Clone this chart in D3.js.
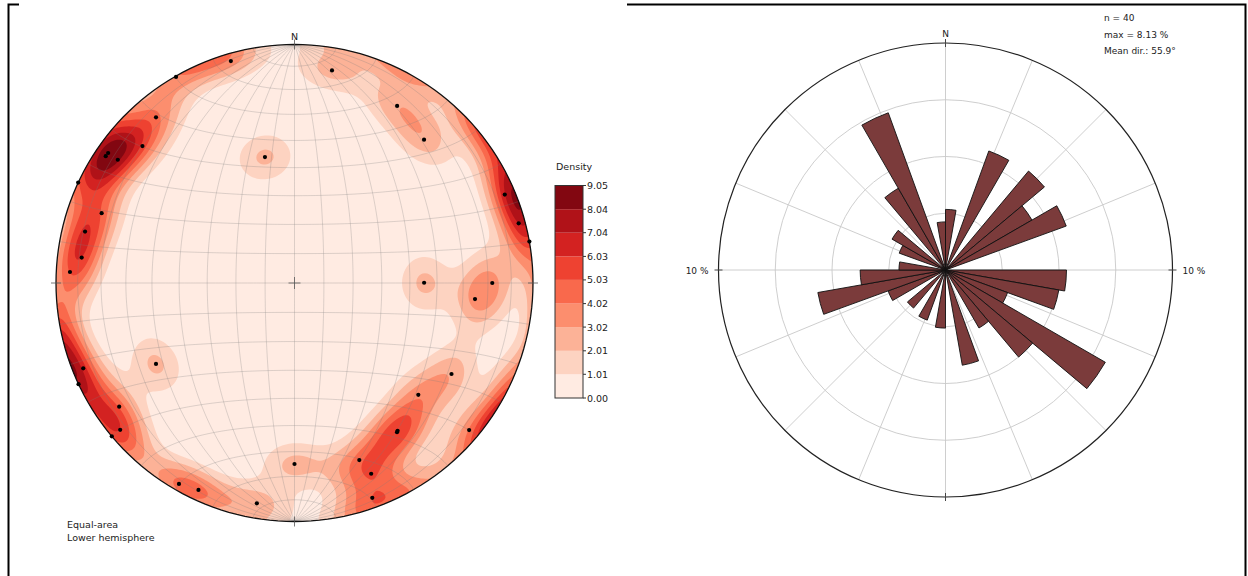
<!DOCTYPE html>
<html><head><meta charset="utf-8">
<script src="https://cdn.jsdelivr.net/npm/d3@7"></script>
<style>
body{margin:0;background:#fff}
svg{display:block}
text{font-family:"DejaVu Sans",sans-serif;fill:#222}
</style>
</head><body>
<svg id="c" width="1248" height="576"></svg>
<script>
// ---------------- data ----------------
// poles (trend / plunge, degrees) read from the stereonet
const poleTrend  = [344.0,330.1,10.0,30.1,42.1,67.2,75.1,80.0,89.9,90.0,95.1,120.1,132.1,130.1,145.1,145.5,159.9,158.1,160.1,180.0,
                    189.7,204.9,209.9,239.7,229.9,230.0,234.8,248.0,244.9,272.8,276.8,283.8,289.9,294.9,303.9,304.9,304.9,312.0,320.1,346.8];
const polePlunge = [3.6,0.4,10.4,15.3,20.1,4.9,3.1,0.0,44.8,18.2,25.0,24.9,30.7,4.8,25.4,25.1,22.0,14.9,4.7,25.1,
                    7.0,4.9,3.2,33.2,5.0,0.0,11.0,5.0,0.0,6.4,11.1,10.5,15.1,0.0,5.2,5.3,10.6,15.3,10.4,44.9];
const densityTicks = [0.00,1.01,2.01,3.02,4.02,5.03,6.03,7.04,8.04,9.05];
const densityLabels = ["0.00","1.01","2.01","3.02","4.02","5.03","6.03","7.04","8.04","9.05"];
const netLabels = ["Equal-area","Lower hemisphere"];

// rose diagram: 10-degree bins, percent of data
const roseBinStart = [0,10,20,30,40,50,60,70,80,90,100,110,120,130,140,150,160,170,
                      180,190,200,210,220,230,240,250,260,270,280,290,300,310,320,330,340,350];
const rosePercent  = [2.67,0,5.58,0,5.69,4.40,5.66,0,0,5.33,5.07,2.91,8.13,5.01,2.95,0,4.26,0,
                      2.56,0,2.35,0,2.19,0,2.69,5.71,3.76,2.05,0,2.17,2.72,0,4.16,7.37,0,2.12];
const roseRings = [2.5,5,7.5,10];
const roseInfo = ["n = 40","max = 8.13 %","Mean dir.: 55.9°"];
const roseAxisLabel = "10 %";

// ---------------- setup ----------------
const svg = d3.select("#c");
const rad = Math.PI/180;

// frame lines
svg.append("path").attr("d","M8.5,576V4.5H19").attr("fill","none").attr("stroke","#000").attr("stroke-width",2);
svg.append("path").attr("d","M627,4.5H1245.5V576").attr("fill","none").attr("stroke","#000").attr("stroke-width",2);

// ---------------- stereonet ----------------
const cx = 294.5, cy = 283, R = 238.5;
const proj = d3.geoAzimuthalEqualArea().scale(R/Math.SQRT2).translate([cx,cy]).clipAngle(90).precision(0.1);
const gpath = d3.geoPath(proj);

function poleLonLat(t,p){
  const e = Math.cos(p*rad)*Math.sin(t*rad), n = Math.cos(p*rad)*Math.cos(t*rad), d = Math.sin(p*rad);
  return [Math.atan2(e,d)/rad, Math.asin(n)/rad];
}
function vec(lon,lat){
  return [Math.cos(lat*rad)*Math.cos(lon*rad), Math.cos(lat*rad)*Math.sin(lon*rad), Math.sin(lat*rad)];
}
const poles = poleTrend.map((t,i)=>poleLonLat(t,polePlunge[i]));
const pv = poles.map(ll=>vec(ll[0],ll[1]));

// density grid (axial exponential kernel on the sphere)
const kappa = 65, offset = 0.13;
const step = 2, gx0 = cx - R - 8, gy0 = cy - R - 8;
const nx = Math.ceil((2*R+16)/step), ny = nx;
const vals = new Float64Array(nx*ny);
let vmax = 0;
for(let j=0;j<ny;j++){
  for(let i=0;i<nx;i++){
    const x = gx0 + (i+0.5)*step, y = gy0 + (j+0.5)*step;
    const ll = proj.invert([x,y]);
    const v = vec(ll[0],ll[1]);
    let s = 0;
    for(const q of pv){
      const c = Math.abs(v[0]*q[0]+v[1]*q[1]+v[2]*q[2]);
      s += Math.exp(kappa*(c-1));
    }
    s = Math.max(0, s - offset);
    vals[j*nx+i] = s;
    const r = Math.hypot(x-cx,y-cy);
    if(r<=R && s>vmax) vmax = s;
  }
}
const dMax = densityTicks[densityTicks.length-1];
for(let k=0;k<vals.length;k++) vals[k] = vals[k]/vmax*dMax;

const bandColor = i => d3.interpolateReds((i+0.5)/9);

svg.append("clipPath").attr("id","netclip").append("circle").attr("cx",cx).attr("cy",cy).attr("r",R);
const net = svg.append("g");
const cg = net.append("g").attr("clip-path","url(#netclip)");
const toScreen = d3.geoTransform({point:function(x,y){ this.stream.point(gx0 + x*step, gy0 + y*step); }});
const cpath = d3.geoPath(toScreen);
const thr = densityTicks.slice(0,9);
const contours = d3.contours().size([nx,ny]).thresholds(thr)(Array.from(vals));
cg.append("circle").attr("cx",cx).attr("cy",cy).attr("r",R).attr("fill",bandColor(0));
cg.selectAll("path.band").data(contours).join("path").attr("class","band")
  .attr("d",cpath).attr("fill",(d,i)=>bandColor(i)).attr("stroke","none");

// graticule
const gridLines = [];
for(let lon=-80; lon<=80; lon+=10){ gridLines.push({type:"LineString",coordinates:d3.range(-90,90.5,1).map(lat=>[lon,lat])}); }
for(let lat=-80; lat<=80; lat+=10){ gridLines.push({type:"LineString",coordinates:d3.range(-90,90.5,1).map(lon=>[lon,lat])}); }
net.append("g").selectAll("path").data(gridLines).join("path").attr("d",gpath)
  .attr("fill","none").attr("stroke","#7a7a7a").attr("stroke-opacity",0.45).attr("stroke-width",0.6);

// primitive
net.append("path").datum({type:"Sphere"}).attr("d",gpath).attr("fill","none").attr("stroke","#111").attr("stroke-width",1.3);

// ticks and centre cross
const tk = 5;
const tickPts = [[0,90],[0,-90],[90,0],[-90,0]].map(p=>proj(p));
tickPts.forEach((p,i)=>{
  const vert = i<2;
  net.append("line").attr("x1",vert?p[0]:p[0]-tk).attr("x2",vert?p[0]:p[0]+tk)
     .attr("y1",vert?p[1]-tk:p[1]).attr("y2",vert?p[1]+tk:p[1]).attr("stroke","#555").attr("stroke-width",0.8);
});
const c0 = proj([0,0]);
net.append("path").attr("d",`M${c0[0]-6},${c0[1]}H${c0[0]+6}M${c0[0]},${c0[1]-6}V${c0[1]+6}`).attr("stroke","#555").attr("stroke-width",0.8);
net.append("text").attr("x",tickPts[0][0]).attr("y",tickPts[0][1]-5).attr("text-anchor","middle").attr("font-size",9.5).text("N");

// poles
net.append("g").selectAll("circle").data(poles).join("circle")
  .attr("cx",d=>proj(d)[0]).attr("cy",d=>proj(d)[1]).attr("r",2.1).attr("fill","#000");

// labels
netLabels.forEach((t,i)=>svg.append("text").attr("x",67).attr("y",528+i*13).attr("font-size",9.5).text(t));

// colorbar
const cbY = d3.scaleLinear().domain([0,dMax]).range([398,185.5]);
const cbX = 555, cbW = 28;
const cb = svg.append("g");
cb.selectAll("rect").data(d3.range(9)).join("rect")
  .attr("x",cbX).attr("width",cbW)
  .attr("y",i=>cbY(densityTicks[i+1])).attr("height",i=>cbY(densityTicks[i])-cbY(densityTicks[i+1]))
  .attr("fill",i=>bandColor(i));
cb.append("rect").attr("x",cbX).attr("y",cbY(dMax)).attr("width",cbW).attr("height",cbY(0)-cbY(dMax))
  .attr("fill","none").attr("stroke","#333").attr("stroke-width",1);
cb.selectAll("line.t").data(densityTicks).join("line").attr("class","t")
  .attr("x1",cbX+cbW).attr("x2",cbX+cbW+3).attr("y1",d=>cbY(d)).attr("y2",d=>cbY(d)).attr("stroke","#333");
cb.selectAll("text.l").data(densityTicks).join("text").attr("class","l")
  .attr("x",cbX+cbW+4).attr("y",d=>cbY(d)+3.5).attr("font-size",9.5).text((d,i)=>densityLabels[i]);
cb.append("text").attr("x",cbX+1).attr("y",170).attr("font-size",9.5).text("Density");

// ---------------- rose diagram ----------------
const rx = 945.5, ry = 270, RR = 227;
const rScale = d3.scaleLinear().domain([0,10]).range([0,RR]);
const rose = svg.append("g").attr("transform",`translate(${rx},${ry})`);
rose.selectAll("circle.ring").data(roseRings.slice(0,3)).join("circle").attr("class","ring")
  .attr("r",d=>rScale(d)).attr("fill","none").attr("stroke","#c8c8c8").attr("stroke-width",0.9);
rose.selectAll("line.spoke").data(d3.range(0,360,22.5)).join("line").attr("class","spoke")
  .attr("x1",0).attr("y1",0).attr("x2",d=>RR*Math.sin(d*rad)).attr("y2",d=>-RR*Math.cos(d*rad))
  .attr("stroke","#c8c8c8").attr("stroke-width",0.9);
const arc = d3.arc().innerRadius(0);
rose.selectAll("path.bar").data(roseBinStart.map((b,i)=>({b,v:rosePercent[i]})).filter(d=>d.v>0)).join("path").attr("class","bar")
  .attr("d",d=>arc({outerRadius:rScale(d.v),startAngle:d.b*rad,endAngle:(d.b+10)*rad}))
  .attr("fill","#7b3b3b").attr("stroke","#111").attr("stroke-width",0.9).attr("stroke-linejoin","miter");
rose.append("circle").attr("r",RR).attr("fill","none").attr("stroke","#222").attr("stroke-width",1.2);
[[0,-1],[0,1],[1,0],[-1,0]].forEach(([a,b])=>{
  const x=a*RR,y=b*RR;
  if(a===0) rose.append("line").attr("x1",x).attr("x2",x).attr("y1",y-4).attr("y2",y+4).attr("stroke","#444");
  else rose.append("line").attr("x1",x-4).attr("x2",x+4).attr("y1",y).attr("y2",y).attr("stroke","#444");
});
rose.append("text").attr("x",0).attr("y",-RR-6).attr("text-anchor","middle").attr("font-size",9).text("N");
rose.append("text").attr("x",-RR-10).attr("y",3.5).attr("text-anchor","end").attr("font-size",9).text(roseAxisLabel);
rose.append("text").attr("x",RR+10).attr("y",3.5).attr("text-anchor","start").attr("font-size",9).text(roseAxisLabel);
roseInfo.forEach((t,i)=>svg.append("text").attr("x",1104).attr("y",21+i*16.5).attr("font-size",9).text(t));
</script>
</body></html>
